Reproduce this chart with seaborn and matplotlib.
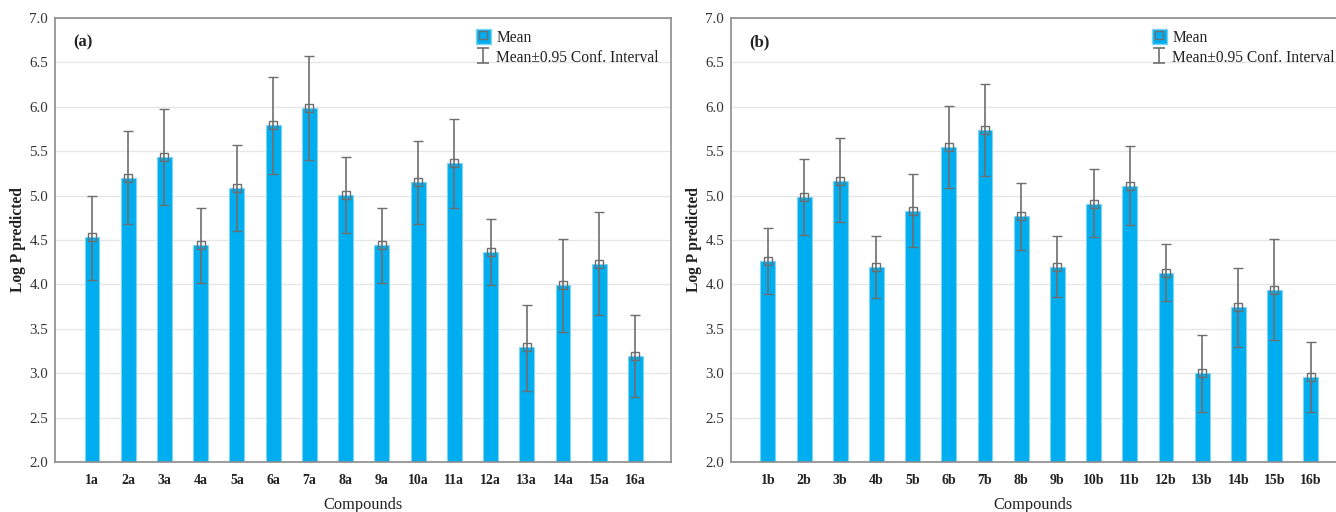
import matplotlib
matplotlib.use("Agg")
import matplotlib.pyplot as plt
import seaborn as sns
import pandas as pd
from matplotlib.lines import Line2D
from matplotlib.patches import Patch

# Predicted log P per compound: mean and 0.95 confidence interval bounds
compounds_a = ["1a", "2a", "3a", "4a", "5a", "6a", "7a", "8a",
               "9a", "10a", "11a", "12a", "13a", "14a", "15a", "16a"]
mean_a = [4.53, 5.20, 5.43, 4.44, 5.09, 5.79, 5.99, 5.01,
          4.44, 5.15, 5.37, 4.37, 3.29, 3.99, 4.23, 3.19]
upper_a = [5.00, 5.73, 5.97, 4.86, 5.57, 6.33, 6.57, 5.44,
           4.86, 5.62, 5.86, 4.74, 3.77, 4.51, 4.81, 3.65]
lower_a = [4.05, 4.68, 4.89, 4.02, 4.60, 5.24, 5.40, 4.58,
           4.02, 4.68, 4.86, 3.99, 2.80, 3.46, 3.65, 2.73]

compounds_b = ["1b", "2b", "3b", "4b", "5b", "6b", "7b", "8b",
               "9b", "10b", "11b", "12b", "13b", "14b", "15b", "16b"]
mean_b = [4.26, 4.98, 5.17, 4.20, 4.83, 5.55, 5.74, 4.77,
          4.20, 4.91, 5.11, 4.13, 3.00, 3.74, 3.94, 2.96]
upper_b = [4.64, 5.41, 5.65, 4.54, 5.24, 6.01, 6.26, 5.14,
           4.54, 5.30, 5.56, 4.45, 3.43, 4.18, 4.51, 3.35]
lower_b = [3.89, 4.56, 4.70, 3.85, 4.42, 5.09, 5.22, 4.39,
           3.86, 4.53, 4.67, 3.81, 2.56, 3.30, 3.37, 2.56]

y_ticks = [2.0, 2.5, 3.0, 3.5, 4.0, 4.5, 5.0, 5.5, 6.0, 6.5, 7.0]

sns.set_style("white")
plt.rcParams["font.family"] = ["Liberation Serif", "DejaVu Serif"]

BAR = "#00AEEF"
BAR_EDGE = "#7FD4F4"
ERR = "#6E6E6E"
SPINE = "#8C8C8C"
GRID = "#E6E6E6"
TEXT = "#222222"

fig = plt.figure(figsize=(13.36, 5.12), dpi=100)
W, H = 1336.0, 512.0


def panel(rect_px, names, means, upper, lower, tag, xmax, legend_x):
    left, top, right, bottom = rect_px
    ax = fig.add_axes([left / W, 1 - bottom / H, (right - left) / W, (bottom - top) / H])
    df = pd.DataFrame({"compound": names, "mean": means})
    sns.barplot(data=df, x="compound", y="mean", color=BAR, width=0.41,
                edgecolor=BAR_EDGE, linewidth=0.8, saturation=1,
                errorbar=None, ax=ax, zorder=2)
    xs = list(range(len(names)))
    err_lo = [m - lo for m, lo in zip(means, lower)]
    err_hi = [hi - m for m, hi in zip(means, upper)]
    ax.errorbar(xs, means, yerr=[err_lo, err_hi], fmt="s", ms=6,
                mfc="none", mec=ERR, mew=1.0, ecolor=ERR, elinewidth=1.2,
                capsize=3.8, capthick=1.2, zorder=3)
    ax.set_ylim(2.0, 7.0)
    ax.set_xlim(-1.02, xmax)
    ax.set_yticks(y_ticks)
    ax.set_yticklabels([f"{t:.1f}" for t in y_ticks], fontsize=10.8, color="#333333")
    ax.tick_params(axis="y", length=0, pad=5)
    ax.tick_params(axis="x", length=0, pad=9)
    for lbl in ax.get_xticklabels():
        lbl.set_fontweight("bold")
        lbl.set_fontsize(10)
        lbl.set_color(TEXT)
    ax.yaxis.grid(True, color=GRID, lw=1.0, zorder=0)
    ax.set_axisbelow(True)
    for s in ax.spines.values():
        s.set_color(SPINE)
        s.set_linewidth(1.2)
    ax.set_xlabel("Compounds", fontsize=11.8, labelpad=7, color=TEXT)
    ax.set_ylabel("Log P predicted", fontsize=11.2, fontweight="bold", labelpad=2.5,
                  color=TEXT)
    ax.text(18 / (right - left), (bottom - 42) / (bottom - top), tag,
            transform=ax.transAxes, fontsize=12, fontweight="bold",
            va="center", ha="left", color=TEXT)

    # legend: bar swatch with hollow mean marker, and an I-shaped interval glyph
    swatch = (Patch(facecolor=BAR, edgecolor=BAR_EDGE),
              Line2D([], [], ls="none", marker="s", ms=5.5, mfc="none",
                     mec=ERR, mew=1.0))
    interval = ax.errorbar([0], [-10], yerr=[1], fmt="none", ecolor=ERR,
                           elinewidth=1.2, capsize=4, capthick=1.2)
    ax.legend([swatch, interval], ["Mean", "Mean\u00b10.95 Conf. Interval"],
              loc="upper left",
              bbox_to_anchor=((legend_x - left) / (right - left), (bottom - 29) / (bottom - top)),
              frameon=False, fontsize=11.2, handlelength=0.95, handleheight=1.15,
              handletextpad=0.35, labelspacing=0.2, borderaxespad=0,
              borderpad=0, labelcolor=TEXT)
    return ax


panel((55, 18, 671, 462), compounds_a, mean_a, upper_a, lower_a, "(a)", 15.98, 476)
ax_b = panel((731, 18, 1336, 462), compounds_b, mean_b, upper_b, lower_b, "(b)", 15.7, 1152)
ax_b.spines["right"].set_visible(False)

fig.savefig("out.png", dpi=100)
